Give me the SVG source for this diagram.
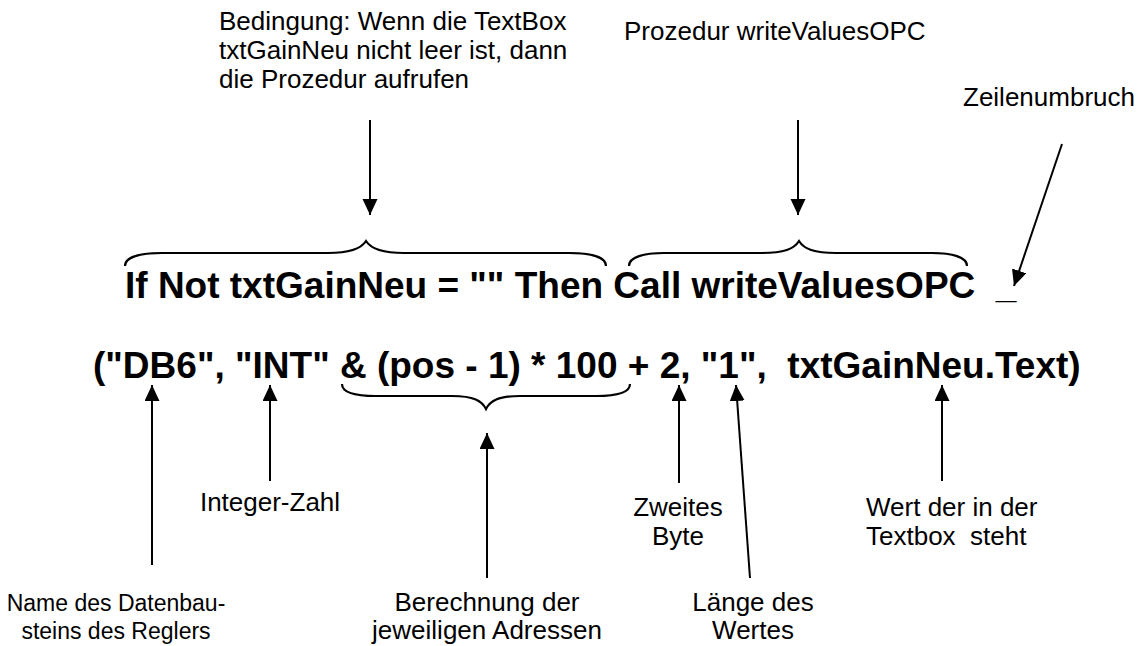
<svg xmlns="http://www.w3.org/2000/svg" width="1142" height="646" viewBox="0 0 1142 646">
<style>
.code{font-family:"Liberation Sans",Arial,sans-serif;font-weight:bold;font-size:37px;fill:#000;white-space:pre}
.lbl{font-family:"Liberation Sans",Arial,sans-serif;font-size:26px;fill:#000;white-space:pre}
.sm{font-size:23px}
.c{text-anchor:middle}
.ln{stroke:#000;stroke-width:2;fill:none}
.br{stroke:#000;stroke-width:2.2;fill:none}
</style>
<defs>
<marker id="ah" markerUnits="userSpaceOnUse" markerWidth="16" markerHeight="18" refX="16" refY="7.5" orient="auto">
<path d="M0,0 L16,7.5 L0,15 Z" fill="#000"/>
</marker>
</defs>
<rect width="1142" height="646" fill="#fff"/>

<g id="code">
<text class="code" x="125" y="298" xml:space="preserve">If Not txtGainNeu = "" Then Call writeValuesOPC  _</text>
<text class="code" x="93" y="378" xml:space="preserve">("DB6", "INT" &amp; (pos - 1) * 100 + 2, "1",  txtGainNeu.Text)</text>
</g>

<g id="braces">
<path class="br" d="M125,266 C125,257 140,253 162,253 L328,253 C350,253 361,249 366,241 C371,249 382,253 404,253 L569,253 C591,253 606,257 606,266"/>
<path class="br" d="M629,266 C629,257 644,253 664,253 L762,253 C784,253 794,249 799,241 C804,249 814,253 836,253 L932,253 C952,253 967,257 967,266"/>
<path class="br" d="M342,384 C342,393 356,396 376,396 L452,396 C474,396 482,401 486,409 C490,401 498,396 520,396 L596,396 C616,396 630,393 630,384"/>
</g>

<g id="n-bedingung">
<text class="lbl" x="219" y="30">Bedingung: Wenn die TextBox</text>
<text class="lbl" x="219" y="59">txtGainNeu nicht leer ist, dann</text>
<text class="lbl" x="219" y="88">die Prozedur aufrufen</text>
</g>
<g id="n-prozedur">
<text class="lbl" x="624" y="40">Prozedur writeValuesOPC</text>
</g>
<g id="n-zeilenumbruch">
<text class="lbl" x="963" y="106">Zeilenumbruch</text>
</g>
<g id="n-name">
<text class="lbl sm c" x="116" y="611">Name des Datenbau-</text>
<text class="lbl sm c" x="116" y="639">steins des Reglers</text>
</g>
<g id="n-integer">
<text class="lbl c" x="270" y="511">Integer-Zahl</text>
</g>
<g id="n-berechnung">
<text class="lbl c" x="487" y="611">Berechnung der</text>
<text class="lbl c" x="487" y="639">jeweiligen Adressen</text>
</g>
<g id="n-zweites">
<text class="lbl c" x="678" y="516">Zweites</text>
<text class="lbl c" x="678" y="545">Byte</text>
</g>
<g id="n-laenge">
<text class="lbl c" x="753" y="611">Länge des</text>
<text class="lbl c" x="753" y="639">Wertes</text>
</g>
<g id="n-wert">
<text class="lbl" x="866" y="516">Wert der in der</text>
<text class="lbl" x="866" y="545">Textbox  steht</text>
</g>

<g id="connectors">
<line class="ln" x1="370" y1="120" x2="370" y2="215" marker-end="url(#ah)"/>
<line class="ln" x1="798" y1="120" x2="798" y2="215" marker-end="url(#ah)"/>
<line class="ln" x1="1062" y1="144" x2="1014" y2="286" marker-end="url(#ah)"/>
<line class="ln" x1="152" y1="565" x2="152" y2="385" marker-end="url(#ah)"/>
<line class="ln" x1="270" y1="481" x2="270" y2="385" marker-end="url(#ah)"/>
<line class="ln" x1="487" y1="578" x2="487" y2="433" marker-end="url(#ah)"/>
<line class="ln" x1="679" y1="483" x2="679" y2="385" marker-end="url(#ah)"/>
<line class="ln" x1="750" y1="578" x2="736" y2="385" marker-end="url(#ah)"/>
<line class="ln" x1="942" y1="481" x2="942" y2="385" marker-end="url(#ah)"/>
</g>
</svg>
